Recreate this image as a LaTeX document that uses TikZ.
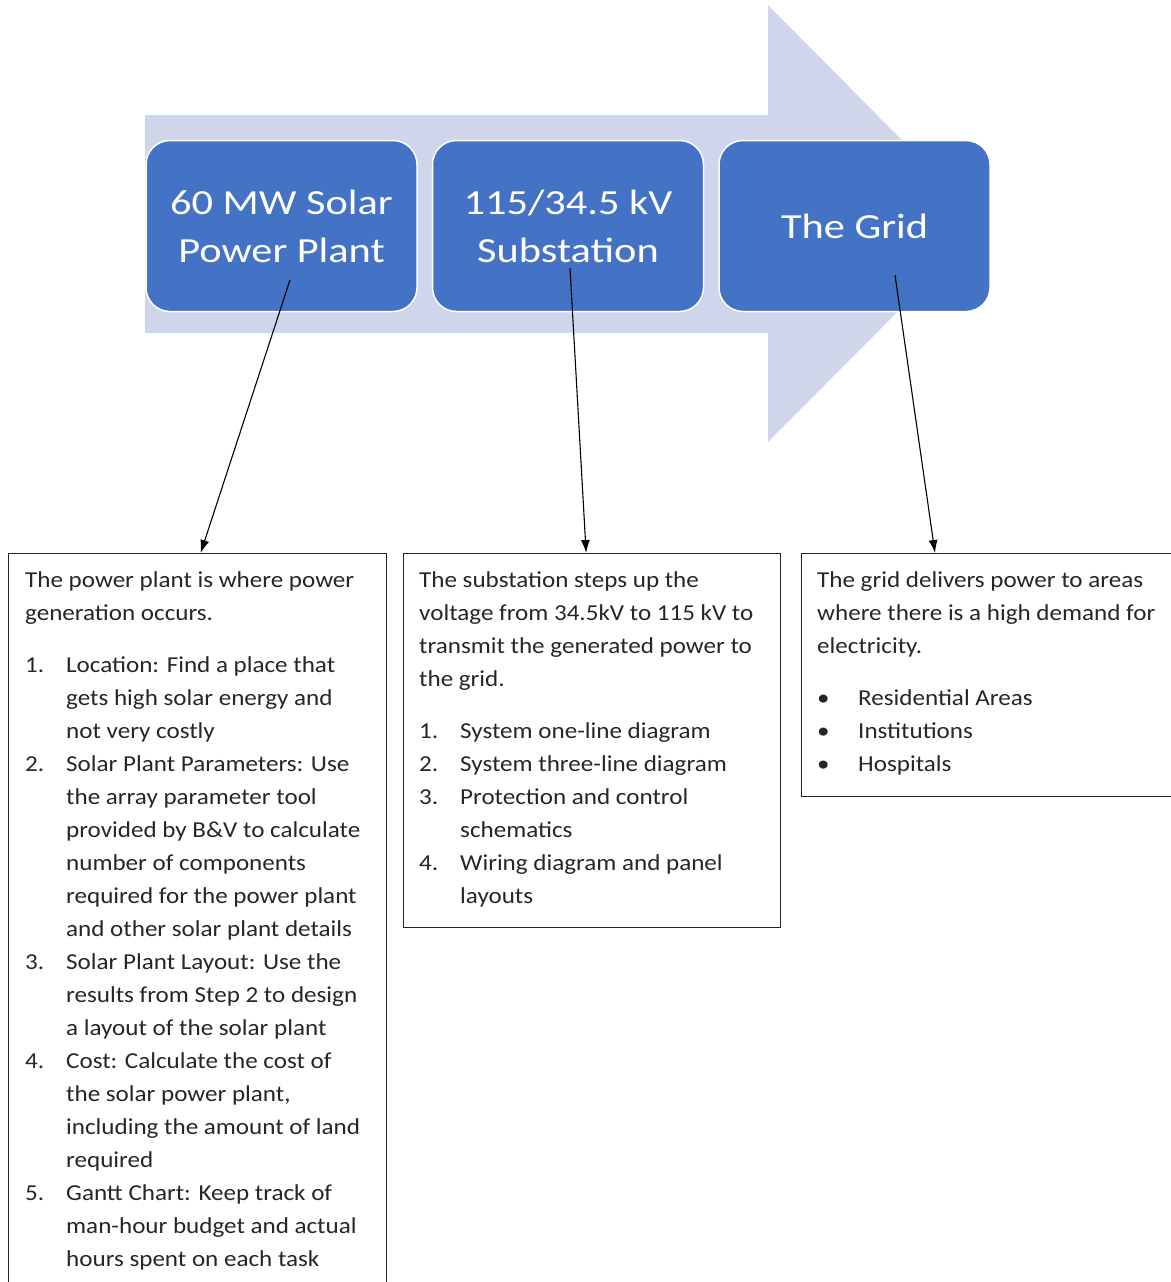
\documentclass[tikz,border=0pt]{standalone}
\usepackage{fontspec}
\setmainfont{Carlito}[FakeStretch=1.1]
\newfontfamily\stagefont{Carlito}[FakeStretch=1.2]
\usetikzlibrary{arrows.meta,positioning}
\definecolor{stageblue}{HTML}{4472C4}
\definecolor{flowgray}{HTML}{CFD5EA}
\newcommand{\itemno}[1]{\makebox[41pt][l]{#1}}
\newcommand{\itemind}{\hspace*{41pt}}

\begin{document}
\begin{tikzpicture}
[x=1pt,y=-1pt,
 stage/.style={rounded corners=24pt,fill=stageblue,draw=white,line width=1.5pt,
   minimum width=271pt,minimum height=171pt,text=white,align=center,
   font=\stagefont\fontsize{35.3}{48}\selectfont},
 notebox/.style={draw=black!85,line width=1.3pt,anchor=north west},
 notetext/.style={anchor=north west,inner sep=0pt,align=left,text=black!85,
   font=\fontsize{22.8}{33}\selectfont},
 pointer/.style={-{Latex[length=13pt,width=9pt]},line width=1.1pt}]
\useasboundingbox (0,0) rectangle (1170,1282);
% process arrow
\fill[flowgray] (145,115) -- (768,115) -- (768,5) -- (985,224) -- (768,442) -- (768,333) -- (145,333) -- cycle;
% stages
\node[stage] (plant) at (281.5,226) {60 MW Solar\\Power Plant};
\node[stage,right=14pt of plant] (sub) {115/34.5 kV\\Substation};
\node[stage,right=14pt of sub] (grid) {The Grid};
% notes
\node[notebox,minimum width=378pt,minimum height=800pt] (noteA) at (8,553) {};
\node[notebox,minimum width=377pt,minimum height=374pt] (noteB) at (403,553) {};
\node[notebox,minimum width=420pt,minimum height=243pt] (noteC) at (801,553) {};
\node[notetext] (txtA) at (25,571) {The power plant is where power\\
generation occurs.\\[19pt]
\itemno{1.}Location: Find a place that\\
\itemind gets high solar energy and\\
\itemind not very costly\\
\itemno{2.}Solar Plant Parameters: Use\\
\itemind the array parameter tool\\
\itemind provided by B\&V to calculate\\
\itemind number of components\\
\itemind required for the power plant\\
\itemind and other solar plant details\\
\itemno{3.}Solar Plant Layout: Use the\\
\itemind results from Step 2 to design\\
\itemind a layout of the solar plant\\
\itemno{4.}Cost: Calculate the cost of\\
\itemind the solar power plant,\\
\itemind including the amount of land\\
\itemind required\\
\itemno{5.}Gantt Chart: Keep track of\\
\itemind man-hour budget and actual\\
\itemind hours spent on each task};
\node[notetext] (txtB) at (419,571) {The substation steps up the\\
voltage from 34.5kV to 115 kV to\\
transmit the generated power to\\
the grid.\\[19pt]
\itemno{1.}System one-line diagram\\
\itemno{2.}System three-line diagram\\
\itemno{3.}Protection and control\\
\itemind schematics\\
\itemno{4.}Wiring diagram and panel\\
\itemind layouts};
\node[notetext] (txtC) at (817,571) {The grid delivers power to areas\\
where there is a high demand for\\
electricity.\\[19pt]
\itemno{\textbullet}Residential Areas\\
\itemno{\textbullet}Institutions\\
\itemno{\textbullet}Hospitals};
% pointers
\coordinate (plantpin) at (290,280);
\coordinate (subpin) at (570,268);
\coordinate (gridpin) at (895,275);
\draw[pointer] (plantpin) -- ([xshift=3pt]noteA.north);
\draw[pointer] (subpin) -- ([xshift=-6pt]noteB.north);
\draw[pointer] (gridpin) -- ([xshift=134pt]noteC.north west);
\end{tikzpicture}
\end{document}
